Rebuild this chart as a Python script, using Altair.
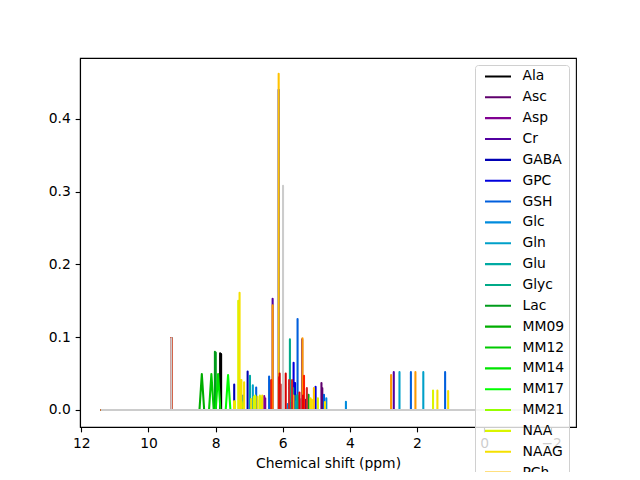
import altair as alt
import pandas as pd

metabolites = ["Ala", "Asc", "Asp", "Cr", "GABA", "GPC", "GSH", "Glc", "Gln", "Glu",
               "Glyc", "Lac", "MM09", "MM12", "MM14", "MM17", "MM21", "NAA", "NAAG",
               "PCh", "PCr", "PE", "Ser", "Tau", "mI", "sI"]
colors = ["#000000", "#5f006d", "#810092", "#5200a0", "#0000b4", "#0000dd", "#005fdd",
          "#008bdd", "#00a0c9", "#00aaa3", "#00aa88", "#009c1b", "#00ad00", "#00c900",
          "#00e400", "#00ff00", "#96ff00", "#daf500", "#f5e000", "#ffc200", "#ff9900",
          "#ff1f00", "#eb0000", "#d60000", "#cc2929", "#cccccc"]

# spectrum range (ppm) and reference peak shared by the basis spectra
ppm_start, ppm_end = 11.42, -2.1
ref_ppm, ref_h = 9.32, 0.0985

# peak positions (ppm) and heights
ala_ppm = [7.865, 7.835, 5.565];            ala_h = [0.078, 0.077, 0.018]
asc_ppm = [5.60, 5.33, 4.845, 4.82];        asc_h = [0.012, 0.014, 0.037, 0.030]
asp_ppm = [6.68, 6.55, 6.52, 5.44];         asp_h = [0.014, 0.019, 0.016, 0.015]
cr_ppm = [6.30, 5.42, 2.69];                cr_h = [0.153, 0.097, 0.052]
gaba_ppm = [7.445, 7.045, 6.32];            gaba_h = [0.035, 0.053, 0.030]
gpc_ppm = [6.12, 5.675, 5.63, 5.02];        gpc_h = [0.44, 0.065, 0.037, 0.032]
gsh_ppm = [7.18, 6.79, 6.405, 6.37, 5.557, 4.77, 2.18, 1.16]
gsh_h = [0.020, 0.031, 0.046, 0.040, 0.125, 0.021, 0.052, 0.052]
glc_ppm = [5.85, 5.75, 5.60, 4.70, 4.116];  glc_h = [0.008, 0.010, 0.012, 0.016, 0.0114]
gln_ppm = [7.22, 6.89, 5.58, 2.52, 1.81];   gln_h = [0.018, 0.034, 0.020, 0.052, 0.052]
glu_ppm = [7.25, 6.975, 5.59];              glu_h = [0.015, 0.047, 0.020]
glyc_ppm = [5.785, 5.69, 5.55];             glyc_h = [0.097, 0.030, 0.020]
lac_ppm = [8.02, 7.995, 5.23];              lac_h = [0.080, 0.079, 0.021]
mm09_ppm = [8.41];                          mm09_h = [0.0495]
mm12_ppm = [8.125];                         mm12_h = [0.0495]
mm14_ppm = [7.925];                         mm14_h = [0.0495]
mm17_ppm = [7.628];                         mm17_h = [0.048]
mm21_ppm = [7.23];                          mm21_h = [0.012]
naa_ppm = [7.42, 7.325, 6.86, 6.82, 6.68, 6.64, 4.95, 1.52]
naa_h = [0.012, 0.150, 0.018, 0.020, 0.020, 0.017, 0.016, 0.0266]
naag_ppm = [7.45, 7.285, 7.23, 7.15, 6.94, 6.75, 6.61, 5.17, 5.13, 4.74, 1.39, 1.07]
naag_h = [0.012, 0.161, 0.041, 0.038, 0.015, 0.018, 0.020, 0.016, 0.014, 0.011, 0.0266, 0.026]
pch_ppm = [6.12, 5.68, 5.07];               pch_h = [0.462, 0.020, 0.030]
pcr_ppm = [6.30, 5.41, 2.77, 2.045];        pcr_h = [0.144, 0.0985, 0.048, 0.052]
pe_ppm = [6.34, 6.11, 5.365];               pe_h = [0.041, 0.045, 0.047]
ser_ppm = [5.50, 5.395];                    ser_h = [0.024, 0.020]
tau_ppm = [6.09, 5.91];                     tau_h = [0.050, 0.050]
mi_ppm = [6.06, 5.81, 5.72, 5.28];          mi_h = [0.035, 0.041, 0.041, 0.030]
si_ppm = [5.99];                            si_h = [0.308]

peak_ppm = [ala_ppm, asc_ppm, asp_ppm, cr_ppm, gaba_ppm, gpc_ppm, gsh_ppm, glc_ppm, gln_ppm,
            glu_ppm, glyc_ppm, lac_ppm, mm09_ppm, mm12_ppm, mm14_ppm, mm17_ppm, mm21_ppm,
            naa_ppm, naag_ppm, pch_ppm, pcr_ppm, pe_ppm, ser_ppm, tau_ppm, mi_ppm, si_ppm]
peak_h = [ala_h, asc_h, asp_h, cr_h, gaba_h, gpc_h, gsh_h, glc_h, gln_h,
          glu_h, glyc_h, lac_h, mm09_h, mm12_h, mm14_h, mm17_h, mm21_h,
          naa_h, naag_h, pch_h, pcr_h, pe_h, ser_h, tau_h, mi_h, si_h]

rows = []
for k, name in enumerate(metabolites):
    broad = name.startswith("MM")
    hw = 0.07 if broad else 0.0
    peaks = list(zip(peak_ppm[k], peak_h[k], [hw] * len(peak_h[k])))
    if not broad:
        peaks.append((ref_ppm, ref_h, 0.0))
    peaks.sort(key=lambda p: -p[0])
    pts = [(ppm_start, 0.0)]
    for c, h, w in peaks:
        pts += [(c + w, 0.0), (c, h), (c - w, 0.0)]
    pts.append((ppm_end, 0.0))
    for i, (x, y) in enumerate(pts):
        rows.append({"metabolite": name, "i": i, "ppm": x, "intensity": y})
df = pd.DataFrame(rows)

FONT = "DejaVu Sans"
FS = 13.89

x_enc = alt.X("ppm:Q",
              scale=alt.Scale(domain=[-2.74, 12.04], reverse=True, nice=False, zero=False),
              axis=alt.Axis(title="Chemical shift (ppm)", values=[12, 10, 8, 6, 4, 2, 0, -2],
                            labelExpr="datum.value < 0 ? '\u2212' + format(-datum.value, 'd') : format(datum.value, 'd')"))
y_enc = alt.Y("intensity:Q",
              scale=alt.Scale(domain=[-0.0234, 0.4838], nice=False, zero=False),
              axis=alt.Axis(title=None, values=[0, 0.1, 0.2, 0.3, 0.4], format=".1f"))
c_enc = alt.Color("metabolite:N",
                  scale=alt.Scale(domain=metabolites, range=colors),
                  legend=alt.Legend(title=None, orient="top-right", offset=7,
                                    symbolType="stroke", symbolSize=676,
                                    symbolStrokeWidth=2.08, clipHeight=13.9,
                                    rowPadding=5.85, labelOffset=10, symbolOffset=4,
                                    padding=4.5, strokeColor="#d0d0d0",
                                    fillColor="rgba(255,255,255,0.8)", cornerRadius=3,
                                    labelFont=FONT, labelFontSize=FS, labelColor="black",
                                    symbolLimit=40))

base = alt.Chart().mark_line(strokeWidth=2.08, strokeJoin="round", clip=True).encode(
    x=x_enc, y=y_enc, color=c_enc, order=alt.Order("i:Q"))

layers = [base.transform_filter(alt.datum.metabolite == name) for name in metabolites]

chart = alt.layer(*layers, data=df).properties(
    width=496, height=369,
    padding={"left": 72, "top": 50, "right": 56, "bottom": 45},
    autosize=alt.AutoSizeParams(type="none"),
).configure(
    background="white"
).configure_view(
    stroke="black", strokeWidth=1.11
).configure_axis(
    grid=False, labelFont=FONT, labelFontSize=FS, labelColor="black",
    tickColor="black", tickSize=4.86, tickWidth=1.11, labelPadding=4.86,
    domainColor="black", domainWidth=1.11,
    titleFont=FONT, titleFontSize=FS, titleFontWeight="normal", titleColor="black",
    titlePadding=5.5,
)

chart.save("out.html", embed_options={"renderer": "svg", "actions": False})
